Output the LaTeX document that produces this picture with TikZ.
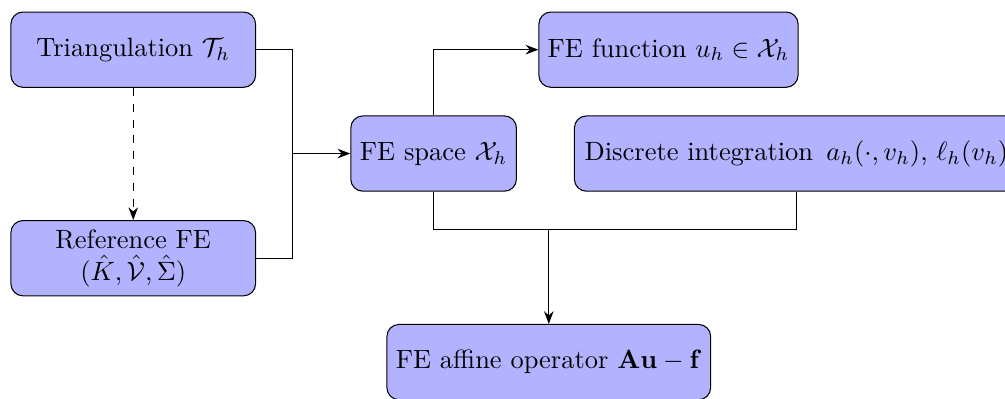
\documentclass[tikz,border=0pt]{standalone}
\usepackage{tikz}
\usetikzlibrary{arrows.meta,positioning,calc}
\usepackage{amsmath}
\usepackage{amssymb}

\begin{document}
\begin{tikzpicture}[block/.style={draw,fill=blue!30,rounded corners=1.6mm,minimum height=1.0cm,align=center}]
    \useasboundingbox (0,0) rectangle (13.35,-5.29);
    \node[block,minimum width=3.25cm] (tri) at (1.77,-0.66) {Triangulation $\mathcal{T}_h$};
    \node[block,minimum width=3.25cm] (ref) at (1.77,-3.43) {Reference FE\\ $(\hat{K},\hat{\mathcal{V}},\hat{\Sigma})$};
    \node[block,minimum width=2.20cm] (space) at (5.76,-2.04) {FE space $\mathcal{X}_h$};
    \node[block,minimum width=3.44cm] (func) at (8.88,-0.66) {FE function $u_h\in\mathcal{X}_h$};
    \node[block,minimum width=5.90cm] (integ) at (10.58,-2.04) {Discrete integration\, $a_h(\cdot,v_h)$, $\ell_h(v_h)$};
    \node[block,minimum width=4.30cm] (affine) at (7.29,-4.81) {FE affine operator $\mathbf{Au}-\mathbf{f}$};
    \coordinate (join) at (3.89,-2.04);
    \coordinate (bus) at (7.29,-3.05);
    \draw[-Stealth,dashed] (tri) -- (ref);
    \draw (tri.east) -| (join);
    \draw (ref.east) -| (join);
    \draw[-Stealth] (join) -- (space);
    \draw[-Stealth] (space.north) |- (func.west);
    \draw (space.south) |- (bus) -| (integ.south);
    \draw[-Stealth] (bus) -- (affine);
\end{tikzpicture}
\end{document}
